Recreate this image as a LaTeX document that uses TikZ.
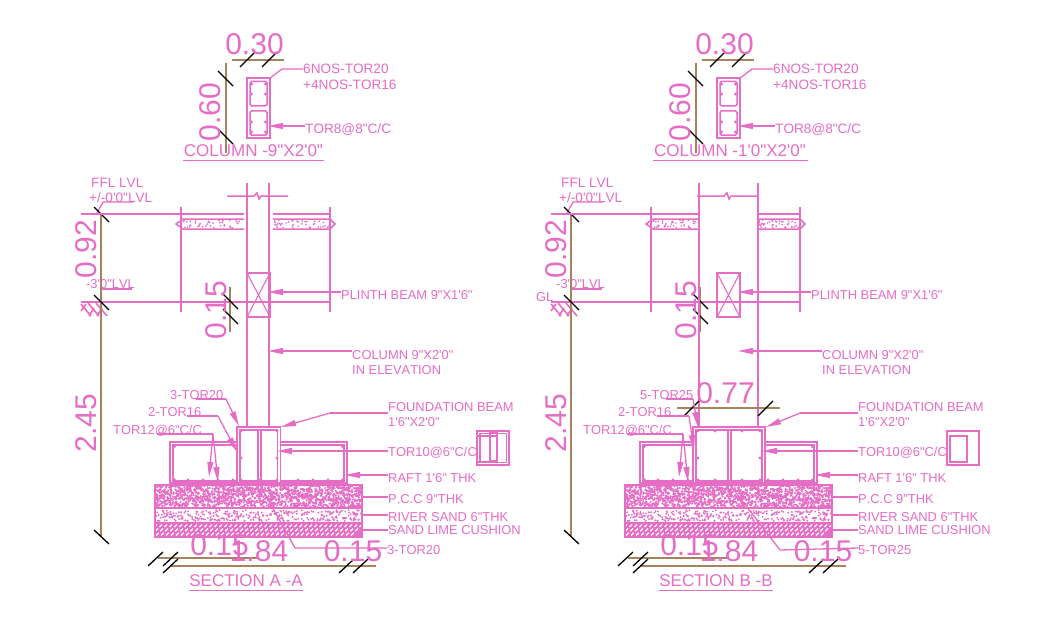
\documentclass[tikz,border=0pt]{standalone}
\usepackage{fontspec}
\usetikzlibrary{arrows.meta}
\newfontfamily\pf[Kerning=Off]{Liberation Sans}
\definecolor{pk}{HTML}{E66DC5}
\definecolor{br}{HTML}{A5835F}
\tikzset{
  ln/.style={draw=pk,line width=1.5pt},
  thin ln/.style={draw=pk,line width=1.1pt},
  lead/.style={draw=pk,line width=1.3pt},
  ar/.style={lead,-{Stealth[length=15pt,width=6pt,inset=0pt]}},
  lbl/.style={anchor=base west,inner sep=0pt,text=pk,font=\pf\fontsize{12.9}{14}\selectfont},
  lbt/.style={lbl,font=\pf\fontsize{13.6}{15}\selectfont},
  ttl/.style={anchor=base,inner sep=0pt,text=pk,font=\pf\fontsize{17}{19}\selectfont},
  dimt/.style={anchor=base,inner sep=0pt,text=pk,font=\pf\fontsize{30}{32}\selectfont},
  dimr/.style={dimt,rotate=90},
  dl/.style={draw=br,line width=1.5pt},
  tk/.style={draw=black,line width=1.3pt},
}
\newcommand{\bars}[1]{\foreach \bx/\by in {#1}{\fill[pk] (\bx,\by) circle (1.6);}}
\newcommand{\speckle}[7]{% x y w h count radius seed
  \pgfmathsetseed{#7}
  \foreach \i in {1,...,#5}{
    \pgfmathsetmacro{\rx}{#1+#3*rnd}
    \pgfmathsetmacro{\ry}{#2+#4*rnd}
    \fill[pk] (\rx,\ry) circle (#6);
  }}
\newcommand{\beamsec}[3]{% left right mid
  \fill[white] (#1,427) rectangle (#2,483);
  \draw[ln] (#1,427) rectangle (#2,483);
  \draw[thin ln] (#1+3,430) rectangle (#2-3,481);
  \draw[ln] (#3-1.5,430) -- (#3-1.5,481) (#3+1.5,430) -- (#3+1.5,481);
}
\newcommand{\commonparts}[5]{%
  % column section
  \draw[dl] (232,60) -- (284,60);
  \draw[dl] (226,63) -- (226,153);
  \draw[tk] (240,67) -- (255,52) (262,67) -- (277,52) (218,71) -- (233,86) (218,129) -- (233,144);
  \node[dimt] (d30) at (254.5,55) {0.30};
  \node[dimr] (d60) at (220,112) {0.60};
  \draw[ln] (247,78) rectangle (270,138);
  \draw[ln,rounded corners=1.5pt] (250,81.5) rectangle (267,106);
  \draw[ln,rounded corners=1.5pt] (250,111) rectangle (267,135);
  \bars{251.5/84,265.5/84,251.5/94,265.5/94,251.5/122,265.5/122,251.5/132,265.5/132}
  \node[lbt] (n1) at (303,74) {6NOS-TOR20};
  \node[lbt] (n2) at (303,90) {+4NOS-TOR16};
  \node[lbt] (n3) at (305,133) {TOR8@8"C/C};
  \draw[lead] (n1.west |- 0,69) -- (282,69) -- (270,78);
  \draw[ar] (n3.west |- 0,126) -- (268,126);
  \node[ttl] (t1) at (#3,156) {#1};
  \draw[ln] (#4,160.5) -- (#5,160.5);
  % levels
  \node[lbt] (ffl) at (91,187) {FFL LVL};
  \node[lbt] (ffl2) at (89,202.5) {+/-0'0"LVL};
  \draw[lead] (133,202) -- (103,202) -- (97,213);
  \node[lbl] (l3) at (86,288) {-3'0"LVL};
  \draw[lead] (100,289) -- (132,289);
  \draw[ln] (81,302) -- (330,302);
  \draw[pk,line width=1.6pt] (81,304) -- (91,316) (88,303) -- (99,316) (96,303) -- (107,316)
    (81,311) -- (86,304) (89,316) -- (94,308) (97,316) -- (102,308);
  \draw[dl] (101,214) -- (101,537);
  \node[dimr] (d92) at (96,249) {0.92};
  \node[dimr] (d245) at (96,423) {2.45};
  \draw[tk] (94,207) -- (109,222) (94,295) -- (109,310) (94,530) -- (109,544);
  % walls and plinth beam
  \draw[ln] (181,207) -- (181,312) (330,207) -- (330,312);
  \draw[ln] (247,273) rectangle (270,317);
  \draw[thin ln] (247,273) -- (270,317) (270,273) -- (247,317);
  \draw[dl] (230,287) -- (230,332);
  \draw[tk] (223,294) -- (238,309) (223,309) -- (238,324);
  \node[dimr] (d15) at (226,310) {0.15};
  \node[lbl] (pb) at (341,299) {PLINTH BEAM 9"X1'6"};
  \draw[ar] (pb.west |- 0,292) -- (268,292);
  \node[lbl] (ce) at (352,359) {COLUMN 9"X2'0"};
  \node[lbl] (ce2) at (352,374) {IN ELEVATION};
  \draw[ar] (ce.west |- 0,351) -- (268,351);
  % raft
  \draw[ln] (170,442) rectangle (347,483);
  \draw[thin ln] (173,445) rectangle (344,481);
  \bars{174.5/446.5,342.5/446.5,174.5/480,188/480,203/480,218/480,233/480,298/480,313/480,328/480,342.5/480}
  % strata
  \fill[white] (155,485) rectangle (362,537);
  \speckle{155}{485}{207}{22}{1500}{1.2}{11}
  \speckle{155}{510}{207}{11}{320}{1.05}{12}
  \fill[pk] (155,523) rectangle (362,537);
  \foreach \i in {146,151,...,351}{\draw[white,line width=1.2pt,dash pattern=on 4pt off 2pt] (\i,535.5) -- (\i+11,524.5);}
  \draw[ln] (155,485) rectangle (362,537);
  \draw[pk,line width=2pt] (155,507.5) -- (362,507.5) (155,523) -- (362,523);
  % right labels
  \node[lbl] (fb) at (388,411) {FOUNDATION BEAM};
  \node[lbl] (fb2) at (388,426) {1'6"X2'0"};
  \node[lbl] (t10) at (388,456) {TOR10@6"C/C};
  \node[lbl] (rf) at (388,482) {RAFT 1'6" THK};
  \node[lbl] (pc) at (388,503) {P.C.C 9"THK};
  \node[lbl] (rs) at (388,521) {RIVER SAND 6"THK};
  \node[lbl] (sl) at (388,534) {SAND LIME CUSHION};
  \draw[ar] (rf.west |- 0,475) -- (345,475);
  \draw[lead] (362,497) -- (pc.west |- 0,497);
  \draw[lead] (362,515) -- (rs.west |- 0,515);
  \draw[lead] (362,530) -- (sl.west |- 0,530);
  % left labels
  \node[lbl] (t12) at (113,434) {TOR12@6"C/C};
  \draw[lead] (157,434) -- (213,434);
  \draw[ar] (213,434) -- (209,477);
  \draw[ar] (213,434) -- (218,482);
  % bottom dims
  \draw[dl] (158,558) -- (258,558);
  \draw[dl] (170,566) -- (376,566);
  \draw[tk] (148,566) -- (163,552) (163,566) -- (178,552) (163,573) -- (178,559)
    (339,573) -- (354,559) (353,573) -- (368,559);
  \node[dimt] (d15a) at (219.5,555) {0.15};
  \node[dimt] (d184) at (259,561) {1.84};
  \node[dimt] (d15b) at (353,561) {0.15};
  \node[ttl] (t2) at (246,586) {#2};
  \draw[ln] (189,590.5) -- (303,590.5);
}
\newcommand{\slab}[2]{% inner left, inner right
  \draw[ln] (81,214) -- (#1,214) (#2,214) -- (330,214);
  \draw[ln] (#1,219) -- (183,219) -- (176,224) -- (183,229) -- (#1,229);
  \draw[ln] (#2,219) -- (330,219) -- (335,224) -- (330,229) -- (#2,229);
  \pgfmathsetseed{7}
  \foreach \i in {1,...,40}{
    \pgfmathsetmacro{\rx}{183+(#1-183)*rnd}
    \pgfmathsetmacro{\ry}{220+8*rnd}
    \fill[pk] (\rx,\ry) circle (0.95);
    \pgfmathsetmacro{\rx}{#2+(330-#2)*rnd}
    \pgfmathsetmacro{\ry}{220+8*rnd}
    \fill[pk] (\rx,\ry) circle (0.95);
  }
}
\begin{document}
\begin{tikzpicture}[x=1pt,y=-1pt]
\useasboundingbox (0,0) rectangle (1059,623);
\fill[white] (0,0) rectangle (1059,623);
% ---------- Section A
\begin{scope}[name prefix=a-]
  \commonparts{COLUMN -9"X2'0"}{SECTION A -A}{253.5}{183}{324}
  \slab{244}{273}
  \draw[ln] (247,183) -- (247,427) (269,183) -- (269,427);
  \draw[ln] (227,196) -- (254,196) -- (257,193) -- (259,199) -- (261,196) -- (288,196);
  \beamsec{237}{280.5}{259.5}
  \bars{241/431,277/431,241/458,277/458,241/480,259/480,277/480}
  \node[lbl] (a3) at (170,399) {3-TOR20};
  \draw[lead] (196,399) -- (226,399);
  \draw[ar] (226,399) -- (239,426);
  \node[lbl] (a2) at (148,416) {2-TOR16};
  \draw[lead] (187,416) -- (218,416);
  \draw[ar] (218,416) -- (237,452);
  \draw[lead] (fb.west |- 0,413) -- (330,413);
  \draw[ar] (330,413) -- (281,427);
  \draw[ar] (t10.west |- 0,451) -- (277,451);
  \node[lbl] (a5) at (387,554) {3-TOR20};
  \draw[lead] (a5.west |- 0,548) -- (295,548) -- (260,485);
  % stirrup detail
  \draw[ln] (477,431) rectangle (509,465);
  \draw[thin ln] (480,433.5) rectangle (506.5,462.5);
  \draw[ln] (477,436) rectangle (497,462);
  \draw[ln] (490,433) rectangle (497,461);
\end{scope}
% ---------- Section B
\begin{scope}[xshift=470pt,name prefix=b-]
  \commonparts{COLUMN -1'0"X2'0"}{SECTION B -B}{260}{183}{338}
  \slab{229}{288}
  \draw[ln] (229,183) -- (229,427) (288,183) -- (288,427);
  \draw[ln] (227,196) -- (254,196) -- (257,193) -- (259,199) -- (261,196) -- (288,196);
  \node[lbl] (gl) at (66,301) {GL};
  \draw[dl] (207,408) -- (310,408);
  \draw[tk] (214,416) -- (229,401) (288,416) -- (303,401);
  \node[dimt] (d77) at (255.5,403) {0.77};
  \beamsec{223}{295}{259.5}
  \bars{228/431,245/431,290/431,272/431,228/458,290/458,228/480,245/480,272/480,290/480}
  \node[lbl] (b3) at (170,399) {5-TOR25};
  \draw[lead] (196,399) -- (223,399);
  \draw[ar] (223,399) -- (228,427);
  \node[lbl] (b2) at (148,416) {2-TOR16};
  \draw[lead] (187,416) -- (219,416);
  \draw[ar] (219,416) -- (224,450);
  \draw[lead] (fb.west |- 0,413) -- (330,413);
  \draw[ar] (330,413) -- (296,427);
  \draw[ar] (t10.west |- 0,451) -- (292,451);
  \node[lbl] (b5) at (388,554) {5-TOR25};
  \draw[lead] (b5.west |- 0,548) -- (310,550) -- (260,485);
  % stirrup detail
  \draw[ln] (477,431) rectangle (509,465);
  \draw[ln] (480,436) rectangle (497,462);
\end{scope}
\end{tikzpicture}
\end{document}
